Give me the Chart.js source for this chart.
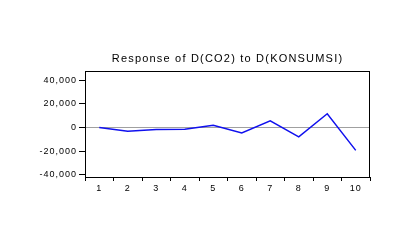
<!DOCTYPE html>
<html>
<head>
<meta charset="utf-8">
<script src="https://cdn.jsdelivr.net/npm/chart.js@4/dist/chart.umd.min.js"></script>
<style>
  html, body { margin: 0; padding: 0; background: #fff; }
  #wrap { width: 416px; height: 244px; }
</style>
</head>
<body>
<div id="wrap"><canvas id="irf"></canvas></div>
<script>
// ---------- Data ----------
const periods = ['1', '2', '3', '4', '5', '6', '7', '8', '9', '10'];
const responseValues = [0, -3100, -1700, -1400, 2000, -4600, 5700, -8000, 11700, -19400];
const yTickValues = [-40000, -20000, 0, 20000, 40000];
const chartTitle = 'Response of D(CO2) to D(KONSUMSI)';

// frame, title and letter spacing
const framePlugin = {
    id: 'frame',
    beforeDraw(chart) {
        chart.ctx.letterSpacing = '1px';
    },
    afterDraw(chart) {
        const { ctx, chartArea: a } = chart;
        ctx.save();
        ctx.strokeStyle = '#000';
        ctx.lineWidth = 1;
        ctx.strokeRect(a.left + 0.5, a.top + 0.5, a.right - a.left - 1, a.bottom - a.top);
        ctx.fillStyle = '#000';
        ctx.font = '11px "Liberation Sans", Arial, sans-serif';
        ctx.letterSpacing = '1.2px';
        ctx.textAlign = 'center';
        ctx.textBaseline = 'middle';
        ctx.fillText(chartTitle, (a.left + a.right) / 2, 59);
        ctx.restore();
    }
};

const ctx = document.getElementById('irf').getContext('2d');
new Chart(ctx, {
    type: 'line',
    data: {
        labels: periods,
        datasets: [{
            data: responseValues,
            borderColor: '#1010ee',
            borderWidth: 1.5,
            pointRadius: 0,
            tension: 0,
            fill: false
        }]
    },
    options: {
        responsive: true,
        maintainAspectRatio: false,
        animation: false,
        layout: { padding: { left: 0, right: 46, top: 71, bottom: 0 } },
        plugins: {
            legend: { display: false },
            title: { display: false },
            tooltip: { enabled: false }
        },
        scales: {
            x: {
                type: 'category',
                offset: true,
                afterFit: s => { s.height = 67; },
                grid: {
                    offset: true,
                    drawOnChartArea: false,
                    tickLength: 4,
                    tickColor: '#000'
                },
                border: { display: false },
                ticks: {
                    color: '#000',
                    padding: 2,
                    maxRotation: 0,
                    font: { family: '"Liberation Sans", Arial, sans-serif', size: 9 }
                }
            },
            y: {
                min: -42000,
                max: 48000,
                afterFit: s => { s.width = 85; },
                afterBuildTicks: s => { s.ticks = yTickValues.map(v => ({ value: v })); },
                grid: {
                    color: c => (c.tick && c.tick.value === 0 ? '#a0a0a0' : 'rgba(0,0,0,0)'),
                    tickLength: 6,
                    tickColor: '#000'
                },
                border: { display: false },
                ticks: {
                    color: '#000',
                    padding: 2,
                    font: { family: '"Liberation Sans", Arial, sans-serif', size: 9 },
                    callback: v => v.toLocaleString('en-US')
                }
            }
        }
    },
    plugins: [framePlugin]
});
</script>
</body>
</html>
